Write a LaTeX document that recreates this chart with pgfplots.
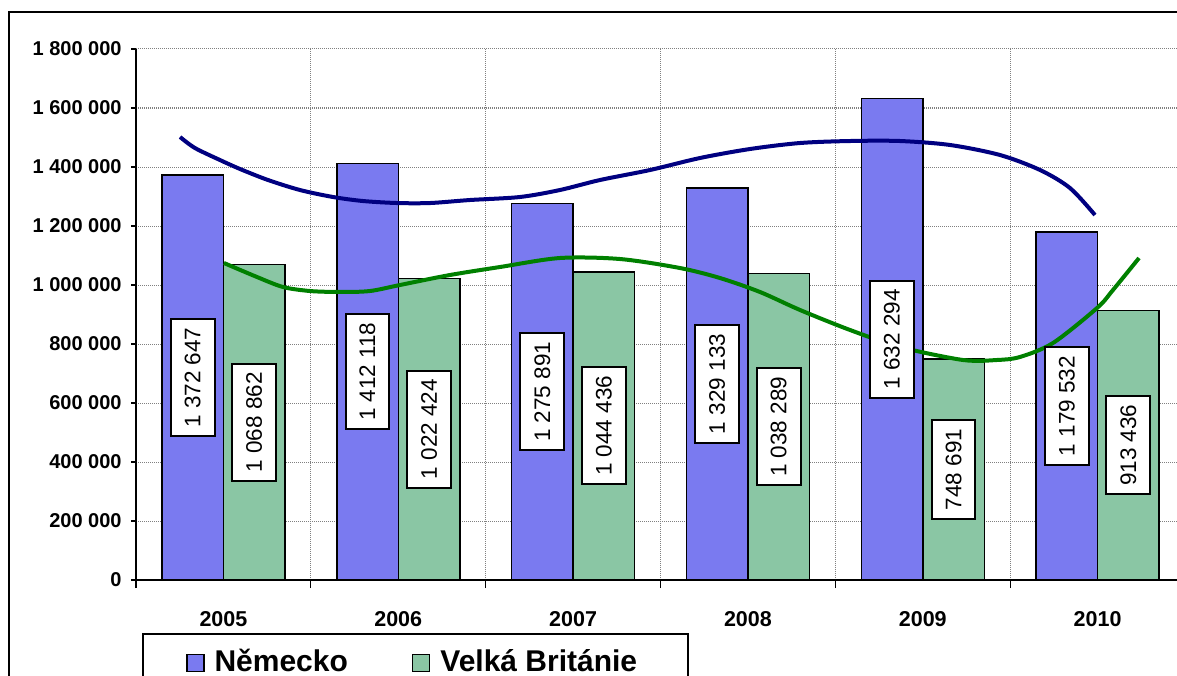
\documentclass[border=0pt]{standalone}
\usepackage{pgfplots}
\pgfplotsset{compat=1.18}
\usepackage{pgfplotstable}
\usepackage{fontspec}
\setmainfont{Liberation Sans}
\definecolor{debar}{RGB}{122,122,240}
\definecolor{ukbar}{RGB}{138,198,164}
\definecolor{detrend}{RGB}{0,0,128}
\definecolor{uktrend}{RGB}{0,128,0}
\pgfplotstableread{
x de uk lde luk
0 1372647 1068862 1~372~647 1~068~862
1 1412118 1022424 1~412~118 1~022~424
2 1275891 1044436 1~275~891 1~044~436
3 1329133 1038289 1~329~133 1~038~289
4 1632294 748691 1~632~294 748~691
5 1179532 913436 1~179~532 913~436
}\data
\begin{document}
\begin{tikzpicture}
\begin{axis}[
  at={(68pt,47.5pt)}, anchor=south west,
  scale only axis, width=524.5pt, height=265.5pt,
  xmin=-0.5, xmax=5.5, ymin=0, ymax=1800000,
  scaled y ticks=false,
  axis lines=left, axis line style={-, black, line width=0.8pt},
  xtick={0,1,2,3,4,5}, xticklabels={2005,2006,2007,2008,2009,2010},
  ytick={0,200000,400000,600000,800000,1000000,1200000,1400000,1600000,1800000},
  yticklabels={0,200 000,400 000,600 000,800 000,1 000 000,1 200 000,1 400 000,1 600 000,1 800 000},
  minor xtick={-0.5,0.5,1.5,2.5,3.5,4.5,5.5},
  ymajorgrids, xminorgrids,
  major grid style={gray, line width=0.5pt, dash pattern=on 0.5pt off 0.5pt},
  minor grid style={gray, line width=0.5pt, dash pattern=on 0.5pt off 0.5pt},
  tick align=outside, major tick length=2.5pt, minor tick length=4pt,
  tick style={black, line width=0.6pt},
  major x tick style={draw=none},
  yticklabel style={font=\bfseries\fontsize{10}{12}\selectfont, inner sep=0pt, anchor=east, xshift=-4.5pt},
  xticklabel style={font=\bfseries\fontsize{10.75}{12}\selectfont, inner sep=0pt, anchor=north, yshift=-13pt},
  legend columns=2,
  legend style={at={(0,0)}, anchor=north west, xshift=3pt, yshift=-26.5pt,
    draw=black, line width=1pt, fill=white,
    font=\bfseries\fontsize{15}{17}\selectfont,
    inner xsep=21.5pt, inner ysep=7.5pt, nodes={inner sep=0pt, anchor=base west},
    cells={anchor=base west},
    /tikz/every even column/.append style={column sep=32pt},
    /tikz/every odd column/.append style={column sep=5pt}},
]
\addplot[ybar, bar width=30.75pt, bar shift=-15.375pt, fill=debar, draw=black, line width=0.75pt,
  legend image code/.code={\draw[fill=debar, draw=black, line width=0.75pt] (0pt,0pt) rectangle (8.5pt,8.5pt);}]
  table[x=x, y=de] {\data};
\addlegendentry{Německo}
\addplot[ybar, bar width=30.75pt, bar shift=15.375pt, fill=ukbar, draw=black, line width=0.75pt,
  legend image code/.code={\draw[fill=ukbar, draw=black, line width=0.75pt] (0pt,0pt) rectangle (8.5pt,8.5pt);}]
  table[x=x, y=uk] {\data};
\addlegendentry{Velká Británie\kern4pt}
% trend lines
\addplot[detrend, line width=2pt, smooth, forget plot] coordinates {
(-0.248,1501700) (-0.163,1464400) (-0.020,1423700) (0.095,1393200) (0.255,1355900)
(0.438,1322000) (0.627,1298300) (0.798,1284700) (0.993,1277900) (1.182,1277900)
(1.410,1288100) (1.696,1298300) (1.925,1322000) (2.154,1355900) (2.440,1389800)
(2.726,1430500) (3.012,1461000) (3.298,1481300) (3.584,1488100) (3.870,1488100)
(4.156,1474600) (4.442,1440600) (4.671,1389800) (4.842,1328800) (4.985,1237300)
};
\addplot[uktrend, line width=2pt, smooth, forget plot] coordinates {
(0.003,1074600) (0.192,1027100) (0.341,993200) (0.495,979600) (0.667,976300)
(0.838,979600) (1.010,1000000) (1.296,1033900) (1.582,1061000) (1.925,1091500)
(2.268,1088100) (2.611,1057600) (2.840,1023700) (3.069,976300) (3.298,915300)
(3.584,847500) (3.870,789800) (4.230,745800) (4.425,745800) (4.556,756000)
(4.745,803400) (4.997,922000) (5.088,983000) (5.237,1091500)
};
% value labels
\addplot[draw=none, mark=none, forget plot, nodes near coords, point meta=explicit symbolic,
  every node near coord/.append style={rotate=90, anchor=center, draw=black, fill=white,
    line width=1pt, text=black, font=\fontsize{11.25}{13}\selectfont, inner xsep=4.25pt, inner ysep=7pt}]
  table[x expr=\thisrow{x}-0.176, y expr=\thisrow{de}/2, meta=lde] {\data};
\addplot[draw=none, mark=none, forget plot, nodes near coords, point meta=explicit symbolic,
  every node near coord/.append style={rotate=90, anchor=center, draw=black, fill=white,
    line width=1pt, text=black, font=\fontsize{11.25}{13}\selectfont, inner xsep=4.25pt, inner ysep=7pt}]
  table[x expr=\thisrow{x}+0.176, y expr=\thisrow{uk}/2, meta=luk] {\data};
\end{axis}
\draw[line width=1pt] (4.5pt,-20pt) -- (4.5pt,331.5pt) -- (620pt,331.5pt);
\pgfresetboundingbox
\useasboundingbox (0,0) rectangle (588.5pt,337.5pt);
\end{tikzpicture}
\end{document}
